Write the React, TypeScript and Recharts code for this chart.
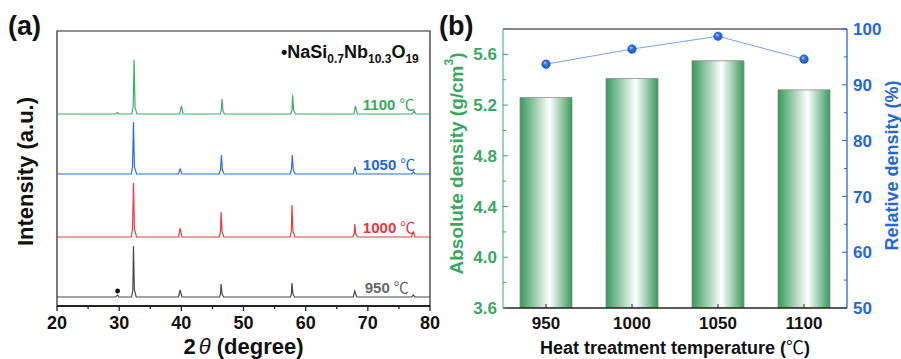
import {
  Bar,
  ComposedChart,
  Line,
  LineChart,
  ReferenceArea,
  ReferenceDot,
  ReferenceLine,
  XAxis,
  YAxis,
} from "recharts";

const FONT = '"Liberation Sans", Arial, sans-serif';
const CJK = '"Noto Sans CJK SC", "DejaVu Sans", sans-serif';

// (a) XRD patterns: [2θ, intensity a.u.]
const xrd950: number[][] = [
  [20, 0], [29.45, 0], [29.7, 2], [29.95, 0],
  [32.0, 0], [32.2, 7], [32.3, 51], [32.45, 7], [32.75, 0],
  [39.55, 0], [39.8, 7], [40.1, 0],
  [46.15, 0], [46.3, 3], [46.4, 13], [46.55, 3], [46.8, 0],
  [57.55, 0], [57.7, 3], [57.8, 14], [57.95, 3], [58.2, 0],
  [67.65, 0], [67.9, 6], [68.2, 0],
  [77.05, 0], [77.3, 2], [77.6, 0], [80, 0],
];
const xrd1000: number[][] = [
  [20, 0], [31.95, 0], [32.15, 8], [32.3, 54], [32.45, 8], [32.8, 0],
  [39.55, 0], [39.8, 9], [40.1, 0],
  [46.1, 0], [46.3, 5], [46.4, 25], [46.55, 5], [46.85, 0],
  [57.5, 0], [57.7, 6], [57.8, 32], [57.95, 6], [58.25, 0],
  [67.6, 0], [67.8, 3], [67.9, 13], [68.05, 3], [68.35, 0],
  [77.0, 0], [77.3, 5], [77.6, 0], [80, 0],
];
const xrd1050: number[][] = [
  [20, 0], [31.95, 0], [32.15, 7], [32.3, 52], [32.45, 7], [32.8, 0],
  [39.55, 0], [39.8, 5], [40.1, 0],
  [46.1, 0], [46.3, 4], [46.45, 19], [46.6, 4], [46.9, 0],
  [57.5, 0], [57.7, 4], [57.85, 19], [58.0, 4], [58.3, 0],
  [67.65, 0], [67.9, 7], [68.2, 0],
  [77.05, 0], [77.35, 2], [77.65, 0], [80, 0],
];
const xrd1100: number[][] = [
  [20, 0], [29.45, 0], [29.7, 1.5], [29.95, 0],
  [32.05, 0], [32.25, 7], [32.4, 54], [32.55, 7], [32.85, 0],
  [39.75, 0], [40.0, 8], [40.3, 0],
  [46.25, 0], [46.4, 3], [46.55, 15], [46.7, 3], [46.95, 0],
  [57.6, 0], [57.8, 4], [57.9, 19], [58.05, 4], [58.35, 0],
  [67.75, 0], [68.0, 8], [68.3, 0],
  [77.15, 0], [77.45, 3], [77.75, 0], [80, 0],
];
const xrdTemps = ["950", "1000", "1050", "1100"];
const xrdPatterns = [xrd950, xrd1000, xrd1050, xrd1100];
const xrdShift = [9, 69, 132, 192];
const xrdTicks = [20, 25, 30, 35, 40, 45, 50, 55, 60, 65, 70, 75, 80];
const impurityPeak = 29.75;

// (b) densities
const temps = ["950", "1000", "1050", "1100"];
const absDensity = [5.26, 5.41, 5.55, 5.32];
const relDensity = [93.7, 96.4, 98.7, 94.6];
const absTicks = [3.6, 3.8, 4.0, 4.2, 4.4, 4.6, 4.8, 5.0, 5.2, 5.4, 5.6];
const relTicks = [50, 55, 60, 65, 70, 75, 80, 85, 90, 95, 100];

const lineColors = ["#4a4a4a", "#ea3c43", "#2a6fdc", "#40ad65"];
const labelColors = ["#666666", "#e6353c", "#2466d6", "#3aa660"];
const GREEN = "#3aa862";
const BLUE = "#2468d8";

const densityData = temps.map((t, i) => ({
  temp: t,
  abs: absDensity[i],
  rel: relDensity[i],
}));

function TwoThetaTick({ x, y, payload }: any) {
  const major = payload.value % 10 === 0;
  return (
    <g>
      <line x1={x} x2={x} y1={y} y2={y + (major ? 5 : 3)} stroke="#222" strokeWidth={1.3} />
      {major && (
        <text x={x} y={y + 23} textAnchor="middle" fontSize={18} fontWeight="bold" fontFamily={FONT} fill="#111">
          {payload.value}
        </text>
      )}
    </g>
  );
}

function AbsTick({ x, y, payload, index }: any) {
  const major = index % 2 === 0;
  return (
    <g>
      <line x1={x} x2={x + (major ? 5 : 3)} y1={y} y2={y} stroke={GREEN} strokeWidth={1} />
      {major && (
        <text x={x - 6} y={y} dy="0.36em" textAnchor="end" fontSize={17} fontWeight="bold" fontFamily={FONT} fill={GREEN}>
          {Number(payload.value).toFixed(1)}
        </text>
      )}
    </g>
  );
}

function RelTick({ x, y, payload, index }: any) {
  const major = index % 2 === 0;
  return (
    <g>
      <line x1={x} x2={x - (major ? 5 : 3)} y1={y} y2={y} stroke={BLUE} strokeWidth={1} />
      {major && (
        <text x={x + 6} y={y} dy="0.36em" textAnchor="start" fontSize={17} fontWeight="bold" fontFamily={FONT} fill={BLUE}>
          {payload.value}
        </text>
      )}
    </g>
  );
}

function TempTick({ x, y, payload }: any) {
  return (
    <g>
      <line x1={x} x2={x} y1={y} y2={y - 4} stroke="#222" strokeWidth={1} />
      <text x={x} y={y + 21} textAnchor="middle" fontSize={17} fontWeight="bold" fontFamily={FONT} fill="#111">
        {payload.value}
      </text>
    </g>
  );
}

function RelDot({ cx, cy }: any) {
  if (cx == null || cy == null) return null;
  return <circle cx={cx} cy={cy} r={4.3} fill="url(#dotGrad)" stroke="#1d5cc8" strokeWidth={0.5} />;
}

export default function App() {
  return (
    <div style={{ position: "absolute", left: 0, top: 0, width: 901, height: 359, background: "#fff", fontFamily: FONT }}>
      {/* (a) XRD */}
      <div style={{ position: "absolute", left: 0, top: 0 }}>
        <LineChart width={450} height={359} margin={{ top: 31, right: 20, bottom: 0, left: 0 }}>
          <XAxis
            dataKey="x"
            type="number"
            domain={[20, 80]}
            ticks={xrdTicks}
            interval={0}
            allowDataOverflow
            height={53}
            stroke="#222"
            strokeWidth={1.8}
            tickSize={0}
            tickMargin={0}
            tick={<TwoThetaTick />}
            label={{
              content: ({ viewBox }: any) => (
                <text
                  x={viewBox.x + viewBox.width / 2}
                  y={viewBox.y + 48}
                  textAnchor="middle"
                  fontSize={22}
                  fontWeight="bold"
                  fontFamily={FONT}
                  fill="#111"
                >
                  2<tspan fontStyle="italic" fontWeight="normal" dx={3}>θ</tspan>
                  <tspan dx={6}>(degree)</tspan>
                </text>
              ),
            }}
          />
          <YAxis
            type="number"
            domain={[0, 275]}
            allowDataOverflow
            width={57}
            tick={false}
            tickLine={false}
            axisLine={false}
            label={{
              content: ({ viewBox }: any) => {
                const cx = 25;
                const cy = viewBox.y + viewBox.height / 2 + 3;
                return (
                  <text
                    x={cx}
                    y={cy}
                    transform={`rotate(-90 ${cx} ${cy})`}
                    textAnchor="middle"
                    dominantBaseline="central"
                    fontSize={22}
                    fontWeight="bold"
                    fontFamily={FONT}
                    fill="#111"
                  >
                    Intensity (a.u.)
                  </text>
                );
              },
            }}
          />
          <ReferenceArea x1={20} x2={80} y1={0} y2={275} fill="none" stroke="#222" strokeWidth={1.2} />
          {xrdPatterns.map((pat, i) => (
            <Line
              key={xrdTemps[i]}
              data={pat.map(([x, v]) => ({ x, y: v + xrdShift[i] }))}
              dataKey="y"
              type="linear"
              stroke={lineColors[i]}
              strokeWidth={1.2}
              dot={false}
              activeDot={false}
              isAnimationActive={false}
            />
          ))}
          {xrdTemps.map((t, i) => (
            <ReferenceDot
              key={"lbl" + t}
              x={i === 0 ? 69.5 : 69.2}
              y={xrdShift[i]}
              r={1}
              shape={(p: any) => (
                <text x={p.cx} y={p.cy - 4} fontSize={15} fontWeight="bold" fontFamily={FONT} fill={labelColors[i]}>
                  {t}
                  <tspan fontWeight="normal" fontFamily={CJK} dx={4}>℃</tspan>
                </text>
              )}
            />
          ))}
          <ReferenceDot x={impurityPeak} y={xrdShift[0] + 6} r={2.4} fill="#111" stroke="none" />
        </LineChart>
      </div>

      {/* (b) density */}
      <div style={{ position: "absolute", left: 440, top: 0 }}>
        <ComposedChart
          width={461}
          height={359}
          data={densityData}
          margin={{ top: 29, right: 0, bottom: 0, left: 10 }}
          barSize={52}
        >
          <defs>
            <linearGradient id="barGrad" x1="0" y1="0" x2="1" y2="0">
              <stop offset="0%" stopColor="#389a5b" />
              <stop offset="57%" stopColor="#ffffff" />
              <stop offset="100%" stopColor="#389a5b" />
            </linearGradient>
            <radialGradient id="dotGrad" cx="50%" cy="50%" r="55%" fx="35%" fy="30%">
              <stop offset="0%" stopColor="#a9c8f7" />
              <stop offset="45%" stopColor="#2f72de" />
              <stop offset="100%" stopColor="#1a52b8" />
            </radialGradient>
          </defs>
          <XAxis
            dataKey="temp"
            height={51}
            stroke="#222"
            strokeWidth={1.6}
            tickSize={0}
            tickMargin={0}
            tick={<TempTick />}
            label={{
              content: ({ viewBox }: any) => (
                <text
                  x={viewBox.x + viewBox.width / 2}
                  y={viewBox.y + 46}
                  textAnchor="middle"
                  fontSize={18}
                  fontWeight="bold"
                  fontFamily={FONT}
                  fill="#111"
                >
                  Heat treatment temperature (<tspan fontWeight="normal" fontFamily={CJK}>℃</tspan>)
                </text>
              ),
            }}
          />
          <YAxis
            yAxisId="left"
            type="number"
            domain={[3.6, 5.8]}
            ticks={absTicks}
            interval={0}
            allowDataOverflow
            width={53}
            stroke={GREEN}
            tickSize={0}
            tickMargin={0}
            tick={<AbsTick />}
            label={{
              content: ({ viewBox }: any) => {
                const cx = viewBox.x + 6;
                const cy = viewBox.y + viewBox.height / 2 - 5;
                return (
                  <text
                    x={cx}
                    y={cy}
                    transform={`rotate(-90 ${cx} ${cy})`}
                    textAnchor="middle"
                    dominantBaseline="central"
                    fontSize={19}
                    fontWeight="bold"
                    fontFamily={FONT}
                    fill={GREEN}
                  >
                    Absolute density (g/cm<tspan dy={-7} fontSize={12}>3</tspan>
                    <tspan dy={7}>)</tspan>
                  </text>
                );
              },
            }}
          />
          <YAxis
            yAxisId="right"
            orientation="right"
            type="number"
            domain={[50, 100]}
            ticks={relTicks}
            interval={0}
            allowDataOverflow
            width={54}
            stroke={BLUE}
            strokeWidth={1.3}
            tickSize={0}
            tickMargin={0}
            tick={<RelTick />}
            label={{
              content: ({ viewBox }: any) => {
                const cx = viewBox.x + 45;
                const cy = viewBox.y + viewBox.height / 2 - 3;
                return (
                  <text
                    x={cx}
                    y={cy}
                    transform={`rotate(-90 ${cx} ${cy})`}
                    textAnchor="middle"
                    dominantBaseline="central"
                    fontSize={18}
                    fontWeight="bold"
                    fontFamily={FONT}
                    fill={BLUE}
                  >
                    Relative density (%)
                  </text>
                );
              },
            }}
          />
          <ReferenceLine yAxisId="left" y={5.8} stroke="#111" strokeWidth={1.2} />
          <Bar
            yAxisId="left"
            dataKey="abs"
            fill="url(#barGrad)"
            stroke="#8c8c8c"
            strokeWidth={0.8}
            isAnimationActive={false}
          />
          <Line
            yAxisId="right"
            dataKey="rel"
            type="linear"
            stroke="#7aa3e6"
            strokeWidth={1}
            dot={<RelDot />}
            activeDot={false}
            isAnimationActive={false}
          />
        </ComposedChart>
      </div>

      <div style={{ position: "absolute", left: 8, top: 13, fontSize: 27, fontWeight: "bold", lineHeight: "27px", color: "#111" }}>
        (a)
      </div>
      <div style={{ position: "absolute", left: 439, top: 13, fontSize: 27, fontWeight: "bold", lineHeight: "27px", color: "#111" }}>
        (b)
      </div>
      <div
        style={{
          position: "absolute",
          left: 281,
          top: 43,
          fontSize: 18,
          fontWeight: "bold",
          lineHeight: "18px",
          color: "#111",
          whiteSpace: "nowrap",
        }}
      >
        •NaSi<span style={{ fontSize: 12, verticalAlign: "-5px" }}>0.7</span>Nb
        <span style={{ fontSize: 12, verticalAlign: "-5px" }}>10.3</span>O
        <span style={{ fontSize: 12, verticalAlign: "-5px" }}>19</span>
      </div>
    </div>
  );
}
